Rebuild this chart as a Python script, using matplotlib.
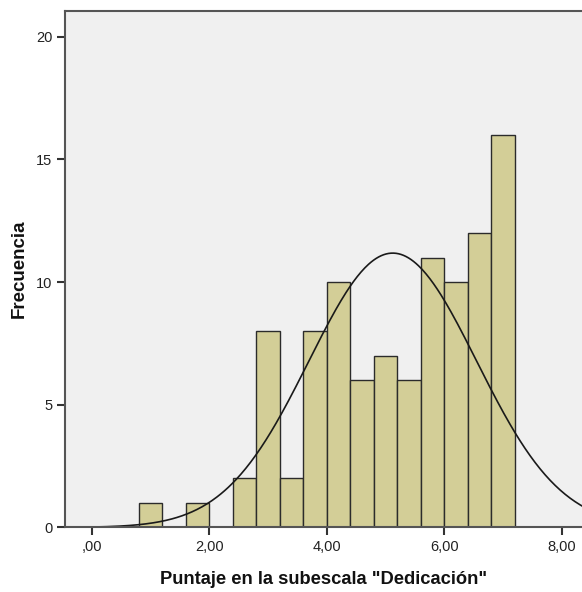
import numpy as np
import matplotlib
matplotlib.use("Agg")
import matplotlib.pyplot as plt

# histogram counts per 0.4-wide bin, starting at 0.8
bin_start = 0.8
bin_width = 0.4
counts = [1, 0, 1, 0, 2, 8, 2, 8, 10, 6, 7, 6, 11, 10, 12, 16]

# fitted normal curve
mean_val = 5.12
sd_val = 1.427
n_total = sum(counts)

x_ticks = [0, 2, 4, 6, 8]
x_tick_labels = [",00", "2,00", "4,00", "6,00", "8,00"]
y_ticks = [0, 5, 10, 15, 20]

plt.rcParams['font.family'] = ['Liberation Sans', 'DejaVu Sans']

fig = plt.figure(figsize=(5.82, 5.92), dpi=100)
ax = fig.add_axes([0.1117, 0.109, 0.8883, 0.8724])
ax.set_facecolor("#f0f0f0")

edges = bin_start + bin_width * np.arange(len(counts))
ax.bar(edges, counts, width=bin_width, align="edge",
       color="#d3ce97", edgecolor="#2b2b2b", linewidth=1.0, zorder=2)

xs = np.linspace(0, 8.5, 400)
ys = n_total * bin_width / (sd_val * np.sqrt(2 * np.pi)) * np.exp(-0.5 * ((xs - mean_val) / sd_val) ** 2)
ax.plot(xs, ys, color="#1a1a1a", linewidth=1.2, zorder=3)

ax.set_xlim(-0.456, 8.34)
ax.set_ylim(0, 21.05)
ax.set_xticks(x_ticks)
ax.set_xticklabels(x_tick_labels)
ax.set_yticks(y_ticks)

for side in ["left", "top", "bottom"]:
    ax.spines[side].set_color("#555555")
    ax.spines[side].set_linewidth(1.5)
ax.spines["right"].set_visible(False)
ax.spines["bottom"].set_zorder(4)

ax.tick_params(axis="both", direction="out", length=6, width=1.5,
               color="#333333", labelsize=10.5, labelcolor="#222222", pad=3)

ax.set_xlabel('Puntaje en la subescala "Dedicación"', fontsize=13.2,
              fontweight="bold", color="#111111", labelpad=12)
ax.set_ylabel("Frecuencia", fontsize=13.5, fontweight="bold",
              color="#111111", labelpad=6)

fig.savefig("out.png", dpi=100)
